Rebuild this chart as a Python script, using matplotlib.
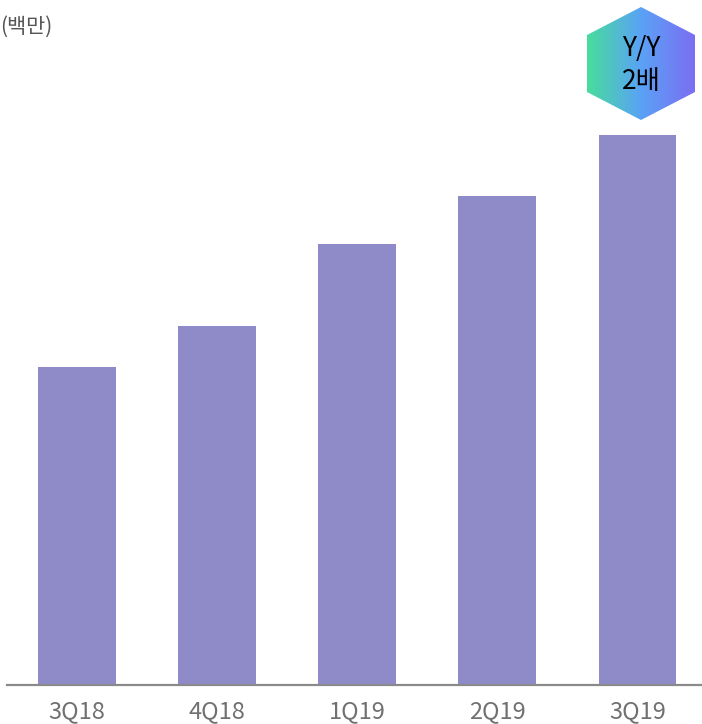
import numpy as np
import matplotlib
matplotlib.use("Agg")
import matplotlib.pyplot as plt
from matplotlib.patches import Polygon

plt.rcParams['font.family'] = ['Noto Sans CJK KR', 'DejaVu Sans']

# quarterly values (millions)
quarters = ["3Q18", "4Q18", "1Q19", "2Q19", "3Q19"]
values = [31.8, 35.9, 44.1, 48.9, 55.0]
unit_label = "(백만)"
badge_text = "Y/Y\n2배"

BAR_COLOR = "#8f8bc8"
W, H = 702, 724

fig = plt.figure(figsize=(W / 100, H / 100), dpi=100)
ax = fig.add_axes([7 / W, 39 / H, 1 - 7 / W, 1 - 39 / H])

x = np.arange(len(quarters))
ax.bar(x, values, width=0.556, color=BAR_COLOR)
ax.set_xlim(-0.5, 4.46)
ax.set_ylim(0, 68.5)
ax.set_xticks(x)
ax.set_xticklabels(quarters, fontsize=17, color="#707070")
ax.tick_params(axis="x", length=0, pad=11)
ax.set_yticks([])
for side in ["top", "right", "left"]:
    ax.spines[side].set_visible(False)
ax.spines["bottom"].set_color("#8a8a8a")
ax.spines["bottom"].set_linewidth(1.6)

fig.text(0, 1 - 27 / H, unit_label, fontsize=15, color="#555555",
         ha="left", va="center")

# gradient hexagon badge (pixel coords)
bx = fig.add_axes([0, 0, 1, 1], zorder=5)
bx.set_xlim(0, W)
bx.set_ylim(H, 0)
bx.axis("off")
cx, top, bot, left, right = 641, 7, 120, 587, 695
verts = [(cx, top), (right, 35), (right, 92), (cx, bot), (left, 92), (left, 35)]
hexagon = Polygon(verts, closed=True, facecolor="none", edgecolor="none")
bx.add_patch(hexagon)
cmap = matplotlib.colors.LinearSegmentedColormap.from_list(
    "badge", ["#48dd9c", "#5aa2f6", "#7b6ef2"])
grad = np.linspace(0, 1, 256).reshape(1, -1)
img = bx.imshow(grad, cmap=cmap, extent=(left, right, bot, top),
                aspect="auto", interpolation="bilinear")
img.set_clip_path(hexagon)
bx.text(cx, 65, badge_text, fontsize=19, color="black", ha="center",
        va="center", linespacing=1.25)

fig.savefig("out.png", dpi=100)
